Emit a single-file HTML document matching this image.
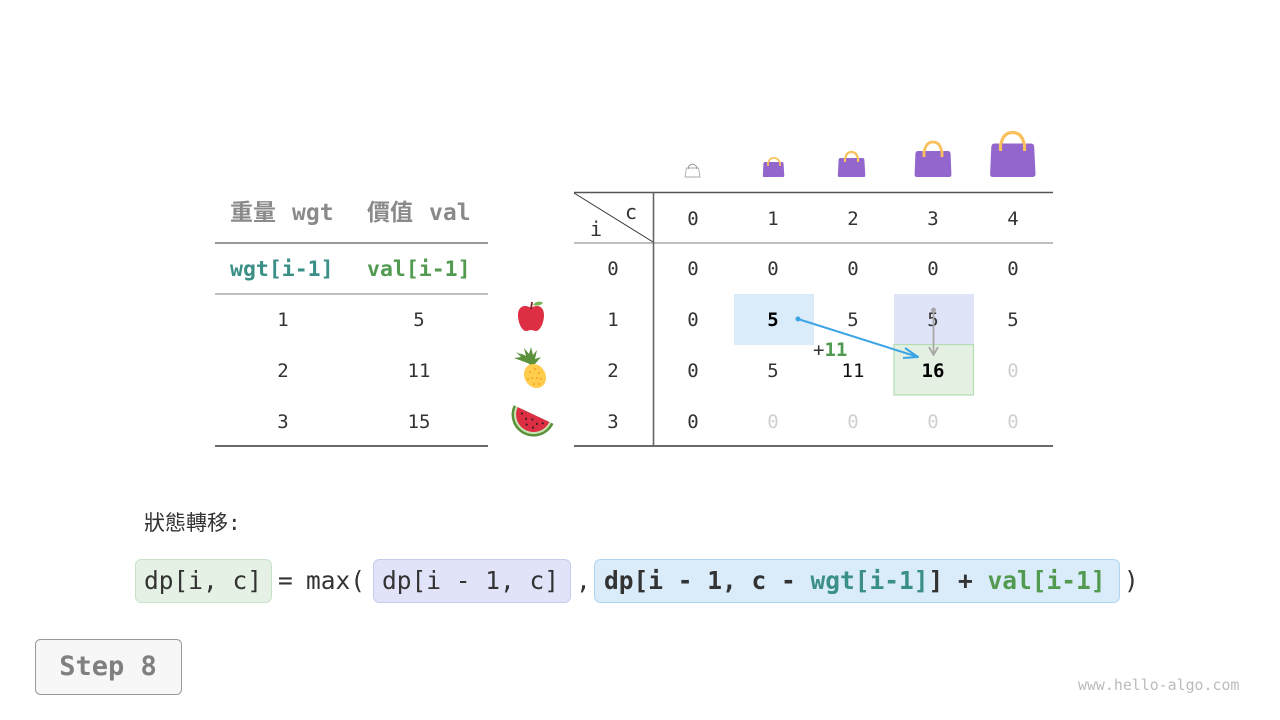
<!DOCTYPE html>
<html><head><meta charset="utf-8"><style>
html,body{margin:0;padding:0;background:#fff;}
svg{display:block;}
text{font-family:"DejaVu Sans Mono","Liberation Mono","Noto Sans CJK TC",monospace;}
.cjk{font-family:"DejaVu Sans Mono","Noto Sans CJK TC",monospace;}
</style></head><body>
<svg width="1280" height="720" viewBox="0 0 1280 720" xmlns="http://www.w3.org/2000/svg">
<rect width="1280" height="720" fill="#fff"/>

<!-- Left table -->
<g font-weight="bold" fill="#8a8a8a" font-size="23">
<text x="230" y="220" class="cjk" font-family="Noto Sans CJK TC, sans-serif">重量</text><text x="292" y="220">wgt</text>
<text x="367" y="220" class="cjk" font-family="Noto Sans CJK TC, sans-serif">價值</text><text x="429" y="220">val</text>
</g>
<line x1="215" y1="243" x2="488" y2="243" stroke="#777" stroke-width="1.6"/>
<text x="230" y="276" font-size="21.5" font-weight="bold" fill="#3a8f87">wgt[i-1]</text>
<text x="367" y="276" font-size="21.5" font-weight="bold" fill="#519a50">val[i-1]</text>
<line x1="215" y1="294" x2="488" y2="294" stroke="#aaa" stroke-width="1.6"/>
<g font-size="19" fill="#333" text-anchor="middle">
<text x="283" y="326">1</text><text x="419" y="326">5</text>
<text x="283" y="377">2</text><text x="419" y="377">11</text>
<text x="283" y="428">3</text><text x="419" y="428">15</text>
</g>
<line x1="215" y1="446" x2="488" y2="446" stroke="#555" stroke-width="1.8"/>

<!-- Fruits -->
<g>
<path d="M531 308 C525 304 518 306 518 315 C518 323 522 331 526 331 C528 331 529 330 531 330 C533 330 534 331 536 331 C540 331 544 323 544 315 C544 306 537 304 531 308 Z" fill="#dd2e44"/>
<path d="M531 309 L532 302" stroke="#8a1a2a" stroke-width="1.8" fill="none"/>
<path d="M533 305 C536 301 541 301 543 303 C540 306 536 306 533 305 Z" fill="#77b255"/>
</g>
<g>
<path d="M530 365 L520 353 L526 356 L524 348 L529 354 L531 347 L533 355 L537 350 L535 359 L541 357 L535 364 Z" fill="#5c913b"/>
<path d="M530 364 L514 358 L521 357 L516 352 L524 356 Z" fill="#5c913b"/>
<ellipse cx="535" cy="376" rx="10.5" ry="12.5" transform="rotate(-30 535 376)" fill="#ffcc4d"/>
<g fill="#f4900c" opacity="0.7">
<circle cx="530" cy="372" r="1"/><circle cx="535" cy="369" r="1"/><circle cx="539" cy="373" r="1"/>
<circle cx="532" cy="378" r="1"/><circle cx="537" cy="378" r="1"/><circle cx="541" cy="379" r="1"/>
<circle cx="534" cy="384" r="1"/><circle cx="539" cy="384" r="1"/><circle cx="528" cy="379" r="1"/>
</g>
</g>
<g transform="rotate(25 531 420)">
<path d="M509 414 A22 22 0 0 0 553 414 Z" fill="#5c913b"/>
<path d="M511.5 414 A19.5 19.5 0 0 0 550.5 414 Z" fill="#c6e5b3"/>
<path d="M513.5 414 A17.5 17.5 0 0 0 548.5 414 Z" fill="#dd2e44"/>
<g fill="#222">
<circle cx="520" cy="418" r="1"/><circle cx="526" cy="421" r="1"/><circle cx="532" cy="419" r="1"/>
<circle cx="538" cy="421" r="1"/><circle cx="543" cy="418" r="1"/><circle cx="529" cy="426" r="1"/>
<circle cx="536" cy="426" r="1"/>
</g>
</g>

<!-- Bags -->
<g>
<path d="M688.5 169 L688.5 166.5 Q692.5 162 696.5 166.5 L696.5 169" fill="none" stroke="#999" stroke-width="1"/>
<path d="M686.5 168 L698.5 168 L700 177 L685 177 Z" fill="none" stroke="#aaa" stroke-width="0.9"/>
<path d="M768 166 Q768 158 774 158 Q780 158 780 166" fill="none" stroke="#f8c15c" stroke-width="1.8"/>
<path d="M765 162 L782 162 Q783.5 162 783.6 164 L784.3 176 Q784.3 177 783 177 L764 177 Q762.7 177 762.8 176 L763.4 164 Q763.5 162 765 162 Z" fill="#9266cc"/>
<path d="M768 162 L768 166 M780 162 L780 166" stroke="#f8c15c" stroke-width="1.8"/>
<path d="M845 162 Q845 152 851.5 152 Q858 152 858 162" fill="none" stroke="#f8c15c" stroke-width="2.2"/>
<path d="M840.5 158 L862.5 158 Q864.3 158 864.4 160 L865.3 175.5 Q865.3 177 863.8 177 L839.2 177 Q837.7 177 837.8 175.5 L838.6 160 Q838.7 158 840.5 158 Z" fill="#9266cc"/>
<path d="M845 158 L845 162 M858 158 L858 162" stroke="#f8c15c" stroke-width="2.2"/>
<path d="M924 157 Q924 142 933 142 Q942 142 942 157" fill="none" stroke="#f8c15c" stroke-width="2.8"/>
<path d="M918 151 L948 151 Q950.5 151 950.6 154 L951.4 174.5 Q951.5 177 949 177 L917 177 Q914.5 177 914.6 174.5 L915.4 154 Q915.5 151 918 151 Z" fill="#9266cc"/>
<path d="M924 151 L924 157 M942 151 L942 157" stroke="#f8c15c" stroke-width="2.8"/>
<path d="M1000.5 151 Q1000.5 132.5 1012.5 132.5 Q1024.5 132.5 1024.5 151" fill="none" stroke="#f8c15c" stroke-width="3.2"/>
<path d="M994.5 143.5 L1031 143.5 Q1034 143.5 1034.2 147 L1035.5 174 Q1035.6 177 1032.5 177 L993 177 Q990 177 990.1 174 L991.3 147 Q991.5 143.5 994.5 143.5 Z" fill="#9266cc"/>
<path d="M1000.5 143.5 L1000.5 151 M1024.5 143.5 L1024.5 151" stroke="#f8c15c" stroke-width="3.2"/>
</g>

<!-- DP table highlights -->
<rect x="734" y="294" width="80" height="51" fill="#daebf9"/>
<rect x="894" y="294" width="80" height="51" fill="#e0e4f8"/>
<rect x="894" y="344.5" width="79.5" height="50.5" fill="#e3f0e2" stroke="#b4dbb4" stroke-width="1.2"/>

<!-- DP table lines -->
<line x1="574" y1="192.5" x2="1053" y2="192.5" stroke="#555" stroke-width="1.6"/>
<line x1="574" y1="243" x2="1053" y2="243" stroke="#aaa" stroke-width="1.6"/>
<line x1="574" y1="446" x2="1053" y2="446" stroke="#555" stroke-width="1.8"/>
<line x1="653.5" y1="192" x2="653.5" y2="446" stroke="#666" stroke-width="1.6"/>
<line x1="574" y1="193" x2="653" y2="242" stroke="#333" stroke-width="1"/>
<text x="625" y="219" font-size="20" fill="#333">c</text>
<text x="590" y="236" font-size="20" fill="#333">i</text>

<g font-size="19" fill="#333" text-anchor="middle">
<text x="693" y="225">0</text><text x="773" y="225">1</text><text x="853" y="225">2</text><text x="933" y="225">3</text><text x="1013" y="225">4</text>
<text x="613" y="275">0</text><text x="693" y="275">0</text><text x="773" y="275">0</text><text x="853" y="275">0</text><text x="933" y="275">0</text><text x="1013" y="275">0</text>
<text x="613" y="326">1</text><text x="693" y="326">0</text><text x="773" y="326" font-weight="bold" fill="#000">5</text><text x="853" y="326">5</text><text x="933" y="326">5</text><text x="1013" y="326">5</text>
<text x="613" y="377">2</text><text x="693" y="377">0</text><text x="773" y="377">5</text><text x="853" y="377" fill="#111">11</text><text x="933" y="377" font-weight="bold" fill="#000">16</text><text x="1013" y="377" fill="#d0d0d0">0</text>
<text x="613" y="428">3</text><text x="693" y="428">0</text><text x="773" y="428" fill="#d0d0d0">0</text><text x="853" y="428" fill="#d0d0d0">0</text><text x="933" y="428" fill="#d0d0d0">0</text><text x="1013" y="428" fill="#d0d0d0">0</text>
</g>

<text x="813" y="356" font-size="19" fill="#333">+<tspan font-weight="bold" fill="#4f9a4f">11</tspan></text>

<line x1="798" y1="319" x2="915" y2="356" stroke="#3ca5e6" stroke-width="2"/>
<circle cx="798" cy="319" r="2.5" fill="#3ca5e6"/>
<path d="M905 348 L918 357 L903 358" fill="none" stroke="#3ca5e6" stroke-width="2" stroke-linejoin="round"/>
<line x1="933.5" y1="310" x2="933.5" y2="354" stroke="#a8a8a8" stroke-width="1.8"/>
<circle cx="933.5" cy="310" r="2.5" fill="#a8a8a8"/>
<path d="M929 347 L933.5 355 L938 347" fill="none" stroke="#a8a8a8" stroke-width="1.8" stroke-linejoin="round"/>

<text x="144" y="530" font-size="21" fill="#333" font-family="Noto Sans CJK TC, sans-serif">狀態轉移:</text>

<rect x="135.5" y="559.5" width="136" height="43" rx="6" fill="#e5f1e4" stroke="#c6e2c6" stroke-width="1"/>
<rect x="373.5" y="559.5" width="197" height="43" rx="6" fill="#e1e4f8" stroke="#c6cbee" stroke-width="1"/>
<rect x="594.5" y="559.5" width="525" height="43" rx="6" fill="#daebf9" stroke="#aed4f0" stroke-width="1"/>
<g font-size="24.5" fill="#333">
<text x="144" y="589">dp[i, c]</text>
<text x="278" y="589">=</text>
<text x="306" y="589">max(</text>
<text x="382" y="589">dp[i - 1, c]</text>
<text x="576" y="589">,</text>
<text x="604" y="589" font-weight="bold">dp[i - 1, c - <tspan fill="#3a8f87">wgt[i-1]</tspan>] + <tspan fill="#519a50">val[i-1]</tspan></text>
<text x="1124" y="589">)</text>
</g>

<rect x="35.5" y="639.5" width="146" height="55" rx="5" fill="#f7f7f7" stroke="#999" stroke-width="1"/>
<text x="108" y="675" font-size="27" font-weight="bold" fill="#808080" text-anchor="middle">Step 8</text>

<text x="1078" y="690" font-size="14.9" fill="#bbb">www.hello-algo.com</text>
</svg>
</body></html>
